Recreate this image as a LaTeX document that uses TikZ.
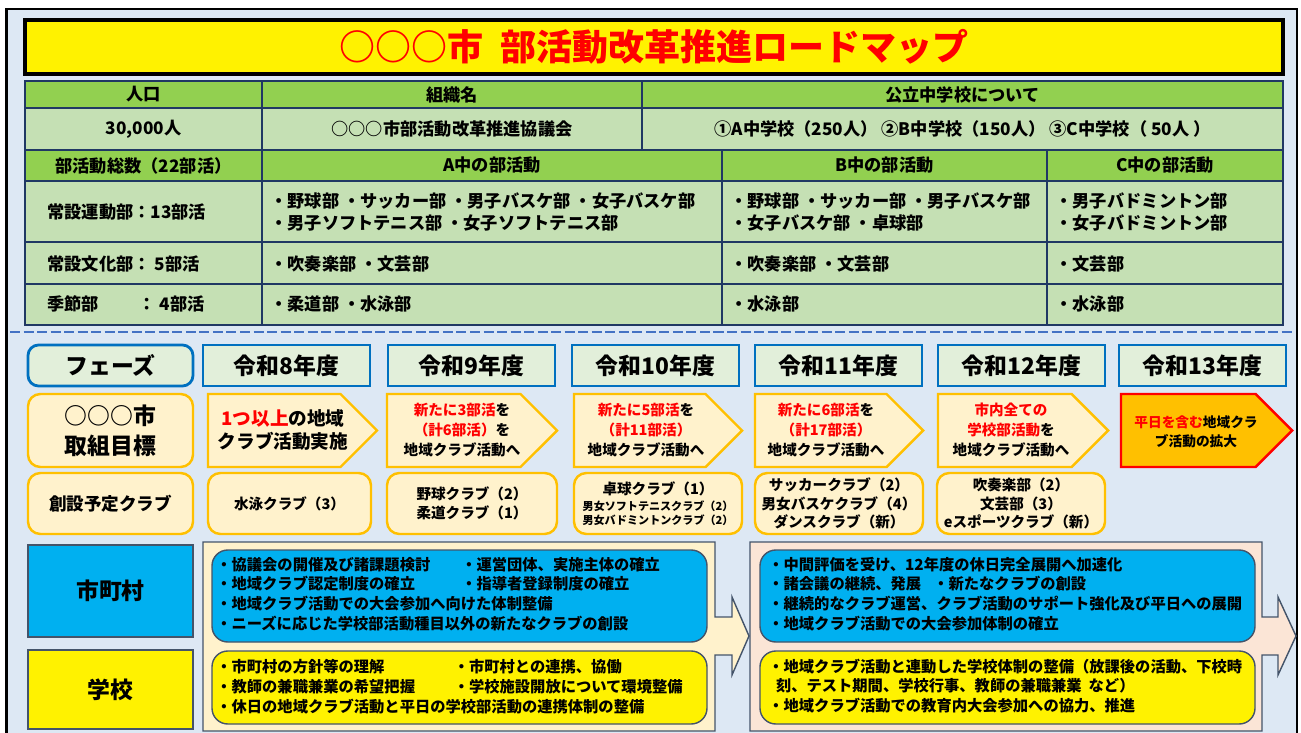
\documentclass[tikz,border=0pt]{standalone}
\usepackage{fontspec}
\setmainfont{Noto Sans CJK JP}
\usetikzlibrary{shapes.symbols, positioning}
\definecolor{framebg}{HTML}{DDE8F4}
\definecolor{headgreen}{HTML}{92D050}
\definecolor{bodygreen}{HTML}{C5E0B4}
\definecolor{tableline}{HTML}{203864}
\definecolor{dashblue}{HTML}{4472C4}
\definecolor{phaseblue}{HTML}{0070C0}
\definecolor{phasefill}{HTML}{E2EFDA}
\definecolor{goalfill}{HTML}{FFF2CC}
\definecolor{goalline}{HTML}{FFC000}
\definecolor{cityblue}{HTML}{00B0F0}
\definecolor{slateline}{HTML}{44546A}
\definecolor{peach}{HTML}{FBE5D6}
\newcommand{\redtxt}[1]{\textcolor{red}{#1}}

\tikzset{
  spanbox/.style n args={4}{at={({(#1+#3)/2},{(#2+#4)/2})}, minimum width={(#3-#1)*0.02cm}, minimum height={(#4-#2)*0.02cm}},
  % signal nodes sit on the centre of their body, the 36.5px point sticks out
  goalspan/.style n args={4}{at={({(#1+#3-36.5)/2},{(#2+#4)/2})}, minimum width={(#3-#1)*0.02cm}, minimum height={(#4-#2)*0.02cm}},
  cell/.style={draw=tableline, line width=1.1pt, inner sep=0pt, font=\bfseries\fontsize{9.8}{12}\selectfont},
  headcell/.style={cell, fill=headgreen},
  bodycell/.style={cell, fill=bodygreen},
  celltext/.style={anchor=west, align=left, inner sep=0pt, font=\bfseries\fontsize{9.8}{12.8}\selectfont},
  phasebox/.style={draw=phaseblue, line width=1.6pt, fill=phasefill, inner sep=0pt, font=\bfseries\fontsize{13}{15}\selectfont},
  goalbox/.style={signal, signal to=east, signal pointer angle=90, draw=goalline, line width=1.4pt, fill=goalfill, inner sep=0pt},
  goaltext/.style={align=center, inner sep=0pt, font=\bfseries\fontsize{8.3}{11.3}\selectfont},
  clubbox/.style={draw=goalline, line width=1.4pt, fill=goalfill, rounded corners=7pt, inner sep=0pt, align=center, font=\bfseries\fontsize{8.3}{11}\selectfont},
  rolebox/.style={draw=slateline, line width=0.8pt, inner sep=0pt, font=\bfseries\fontsize{13}{15}\selectfont},
  planarrow/.style={draw=slateline, line width=0.8pt},
  planbox/.style={draw=slateline, line width=0.8pt, rounded corners=9pt, inner sep=0pt},
  plantext/.style={anchor=west, align=left, inner sep=0pt, font=\bfseries\fontsize{8.7}{11.3}\selectfont},
}

\begin{document}
\begin{tikzpicture}[x=0.02cm, y=-0.02cm]
  \useasboundingbox (0,0) rectangle (1301,733);
  % Frame
  \draw[line width=1.6pt, fill=framebg] (6.5,9) rectangle (1297,760);

  % Title
  \node[spanbox={25}{20}{1283}{74}, draw, line width=1.8pt, fill=yellow, inner sep=0pt, text=red, font=\bfseries\fontsize{20.5}{24}\selectfont] (title) {○○○市\ \ 部活動改革推進ロードマップ};

  % Table: basic data
  \node[headcell, spanbox={25}{81}{262}{108}] (hpop) {人口};
  \node[headcell, spanbox={262}{81}{642}{108}] (horg) {組織名};
  \node[headcell, spanbox={642}{81}{1283}{108}] (hsch) {公立中学校について};
  \node[bodycell, spanbox={25}{108}{262}{150}] (vpop) {30,000人};
  \node[bodycell, spanbox={262}{108}{642}{150}] (vorg) {○○○市部活動改革推進協議会};
  \node[bodycell, spanbox={642}{108}{1283}{150}] (vsch) {①A中学校（250人）\ ②B中学校（150人）\ ③C中学校（ 50人 ）};

  % Table: clubs per school
  \node[headcell, spanbox={25}{150}{262}{181}] (hsum) {部活動総数（22部活）};
  \node[headcell, spanbox={262}{150}{722}{181}] (hA) {A中の部活動};
  \node[headcell, spanbox={722}{150}{1047}{181}] (hB) {B中の部活動};
  \node[headcell, spanbox={1047}{150}{1283}{181}] (hC) {C中の部活動};
  \foreach \ya/\yb [count=\r] in {181/242, 242/284, 284/325} {
    \node[bodycell, spanbox={25}{\ya}{262}{\yb}] (kind\r) {};
    \node[bodycell, spanbox={262}{\ya}{722}{\yb}] (schA\r) {};
    \node[bodycell, spanbox={722}{\ya}{1047}{\yb}] (schB\r) {};
    \node[bodycell, spanbox={1047}{\ya}{1283}{\yb}] (schC\r) {};
  }
  \node[celltext] (kind1t) at (47,212) {常設運動部：13部活};
  \node[celltext] (kind2t) at (47,264) {常設文化部： 5部活};
  \node[celltext] (kind3t) at (47,304) {季節部\hspace{2.3em}： 4部活};
  \node[celltext] (schA1t) at (270,212) {・野球部 ・サッカー部 ・男子バスケ部 ・女子バスケ部\\・男子ソフトテニス部 ・女子ソフトテニス部};
  \node[celltext] (schA2t) at (270,264) {・吹奏楽部 ・文芸部};
  \node[celltext] (schA3t) at (270,304) {・柔道部 ・水泳部};
  \node[celltext] (schB1t) at (730,212) {・野球部 ・サッカー部 ・男子バスケ部\\・女子バスケ部 ・卓球部};
  \node[celltext] (schB2t) at (730,264) {・吹奏楽部 ・文芸部};
  \node[celltext] (schB3t) at (730,304) {・水泳部};
  \node[celltext] (schC1t) at (1055,212) {・男子バドミントン部\\・女子バドミントン部};
  \node[celltext] (schC2t) at (1055,264) {・文芸部};
  \node[celltext] (schC3t) at (1055,304) {・水泳部};

  % Separator
  \draw[dashblue, line width=1.7pt, dash pattern=on 5.7pt off 2pt] (10,332) -- (1294,332);

  % Phases
  \node[phasebox, rounded corners=6pt, spanbox={28}{345}{193}{386}] (phase) {フェーズ};
  \foreach \x/\yr in {203/8, 388/9, 572/10, 755/11, 938/12, 1119/13}
    \node[phasebox, spanbox={\x}{345}{\x+167}{386}] (ph\yr) {令和\yr 年度};

  % Goals
  \node[clubbox, spanbox={28}{394}{193}{467}, font=\bfseries\fontsize{13}{17}\selectfont] (goal) {○○○市\\取組目標};
  \node[goalbox, goalspan={208}{394}{377}{467}] (goal8) {};
  \node[goalbox, goalspan={387}{394}{557}{467}] (goal9) {};
  \node[goalbox, goalspan={574}{394}{742}{467}] (goal10) {};
  \node[goalbox, goalspan={755}{394}{923}{467}] (goal11) {};
  \node[goalbox, goalspan={938}{394}{1108}{467}] (goal12) {};
  \node[goalbox, fill=goalline, draw=red, goalspan={1121}{394}{1292}{467}] (goal13) {};
  \node[goaltext, font=\bfseries\fontsize{10.6}{13}\selectfont] (goal8t) at (283,430) {\redtxt{1つ以上}の地域\\クラブ活動実施};
  \node[goaltext] (goal9t) at (462,430) {\redtxt{新たに3部活}を\\\redtxt{（計6部活）}を\\地域クラブ活動へ};
  \node[goaltext] (goal10t) at (646,430) {\redtxt{新たに5部活}を\\\redtxt{（計11部活）}\\地域クラブ活動へ};
  \node[goaltext] (goal11t) at (826,430) {\redtxt{新たに6部活}を\\\redtxt{（計17部活）}\\地域クラブ活動へ};
  \node[goaltext] (goal12t) at (1011,430) {\redtxt{市内全ての}\\\redtxt{学校部活動}を\\地域クラブ活動へ};
  \node[goaltext, font=\bfseries\fontsize{7.8}{10.5}\selectfont] (goal13t) at (1196,432) {\redtxt{平日を含む}地域クラ\\ブ活動の拡大};

  % Clubs
  \node[clubbox, spanbox={28}{473}{193}{534}, font=\bfseries\fontsize{10}{12}\selectfont] (club) {創設予定クラブ};
  \node[clubbox, spanbox={208}{473}{371}{534}] (club8) {水泳クラブ（3）};
  \node[clubbox, spanbox={387}{473}{557}{534}] (club9) {野球クラブ（2）\\柔道クラブ（1）};
  \node[clubbox, spanbox={574}{473}{742}{534}] (club10) {卓球クラブ（1）\\[-2pt]{\fontsize{6.3}{7.5}\selectfont 男女ソフトテニスクラブ（2）}\\[-3pt]{\fontsize{6.3}{7.5}\selectfont 男女バドミントンクラブ（2）}};
  \node[clubbox, spanbox={755}{473}{923}{534}, font=\bfseries\fontsize{8.3}{10.4}\selectfont] (club11) {サッカークラブ（2）\\男女バスケクラブ（4）\\ダンスクラブ（新）};
  \node[clubbox, spanbox={937}{473}{1105}{534}, font=\bfseries\fontsize{8.3}{10.4}\selectfont] (club12) {吹奏楽部（2）\\文芸部（3）\\eスポーツクラブ（新）};

  % Roles
  \node[rolebox, fill=cityblue, spanbox={28}{545}{193}{637}] (city) {市町村};
  \node[rolebox, fill=yellow, spanbox={28}{650}{193}{729}] (school) {学校};

  % Plan arrows
  \draw[planarrow, fill=goalfill] (203,542) -- (715,542) -- (715,617) -- (732,617) -- (732,597) -- (749,636)
    -- (732,675) -- (732,655) -- (715,655) -- (715,731) -- (203,731) -- cycle;
  \draw[planarrow, fill=peach] (750,542) -- (1262,542) -- (1262,617) -- (1278,617) -- (1278,597) -- (1296,636)
    -- (1278,675) -- (1278,655) -- (1262,655) -- (1262,731) -- (750,731) -- cycle;

  % Plans up to R9
  \node[planbox, fill=cityblue, spanbox={212}{550}{707}{642}] (city1) {};
  \node[planbox, fill=yellow, spanbox={212}{651}{707}{724}] (school1) {};
  \node[plantext] (city1t) at (216,594) {\makebox[4.9cm][l]{・協議会の開催及び諸課題検討}・運営団体、実施主体の確立\\
    \makebox[4.9cm][l]{・地域クラブ認定制度の確立}・指導者登録制度の確立\\
    ・地域クラブ活動での大会参加へ向けた体制整備\\
    ・ニーズに応じた学校部活動種目以外の新たなクラブの創設};
  \node[plantext] (school1t) at (216,687) {\makebox[4.75cm][l]{・市町村の方針等の理解}・市町村との連携、協働\\
    \makebox[4.75cm][l]{・教師の兼職兼業の希望把握}・学校施設開放について環境整備\\
    ・休日の地域クラブ活動と平日の学校部活動の連携体制の整備};

  % Plans from R10
  \node[planbox, fill=cityblue, spanbox={760}{550}{1255}{642}] (city2) {};
  \node[planbox, fill=yellow, spanbox={760}{651}{1255}{724}] (school2) {};
  \node[plantext] (city2t) at (768,594) {・中間評価を受け、12年度の休日完全展開へ加速化\\
    \makebox[3.3cm][l]{・諸会議の継続、発展}・新たなクラブの創設\\
    ・継続的なクラブ運営、クラブ活動のサポート強化及び平日への展開\\
    ・地域クラブ活動での大会参加体制の確立};
  \node[plantext] (school2t) at (768,686) {・地域クラブ活動と連動した学校体制の整備（放課後の活動、下校時\\
    \hspace{0.5em}刻、テスト期間、学校行事、教師の兼職兼業\ \ など）\\
    ・地域クラブ活動での教育内大会参加への協力、推進};
\end{tikzpicture}
\end{document}
